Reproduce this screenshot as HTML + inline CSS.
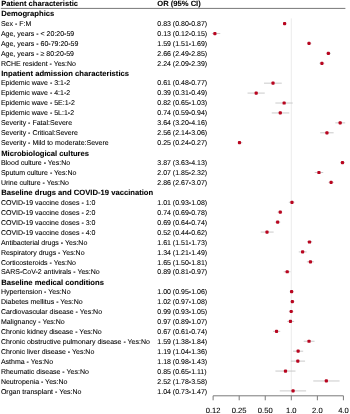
<!DOCTYPE html>
<html><head><meta charset="utf-8"><style>
html,body{margin:0;padding:0;background:#fff;}
body{width:350px;height:414px;overflow:hidden;}
svg{display:block;will-change:transform;}
text{text-rendering:geometricPrecision;font-family:"Liberation Sans",sans-serif;font-size:7.0px;fill:#000;stroke:#000;stroke-width:0.08px;}
text.b{font-weight:bold;}
</style></head><body>
<svg width="350" height="414" viewBox="0 0 350 414">
<rect width="350" height="414" fill="#fff"/>
<line x1="291.3" y1="18.4" x2="291.3" y2="395.8" stroke="#ebebeb" stroke-width="1.0"/>
<line x1="283.21" y1="23.6" x2="286.36" y2="23.6" stroke="#c4c4c4" stroke-width="0.9"/>
<rect x="282.99" y="22" width="3.2" height="3.2" rx="0.96" fill="#b8051f"/>
<line x1="211.89" y1="33.53" x2="220.27" y2="33.53" stroke="#c4c4c4" stroke-width="0.9"/>
<rect x="213.29" y="31.93" width="3.2" height="3.2" rx="0.96" fill="#b8051f"/>
<line x1="307.09" y1="43.45" x2="311.33" y2="43.45" stroke="#c4c4c4" stroke-width="0.9"/>
<rect x="307.43" y="41.85" width="3.2" height="3.2" rx="0.96" fill="#b8051f"/>
<line x1="325.9" y1="53.38" x2="330.98" y2="53.38" stroke="#c4c4c4" stroke-width="0.9"/>
<rect x="326.78" y="51.78" width="3.2" height="3.2" rx="0.96" fill="#b8051f"/>
<line x1="319.31" y1="63.31" x2="324.36" y2="63.31" stroke="#c4c4c4" stroke-width="0.9"/>
<rect x="320.32" y="61.71" width="3.2" height="3.2" rx="0.96" fill="#b8051f"/>
<line x1="264.01" y1="83.16" x2="281.77" y2="83.16" stroke="#c4c4c4" stroke-width="0.9"/>
<rect x="271.42" y="81.56" width="3.2" height="3.2" rx="0.96" fill="#b8051f"/>
<line x1="247.57" y1="93.09" x2="264.78" y2="93.09" stroke="#c4c4c4" stroke-width="0.9"/>
<rect x="254.6" y="91.49" width="3.2" height="3.2" rx="0.96" fill="#b8051f"/>
<line x1="275.4" y1="103.02" x2="292.71" y2="103.02" stroke="#c4c4c4" stroke-width="0.9"/>
<rect x="282.54" y="101.42" width="3.2" height="3.2" rx="0.96" fill="#b8051f"/>
<line x1="271.76" y1="112.94" x2="289.27" y2="112.94" stroke="#c4c4c4" stroke-width="0.9"/>
<rect x="278.68" y="111.34" width="3.2" height="3.2" rx="0.96" fill="#b8051f"/>
<line x1="335.33" y1="122.87" x2="345.19" y2="122.87" stroke="#c4c4c4" stroke-width="0.9"/>
<rect x="338.57" y="121.27" width="3.2" height="3.2" rx="0.96" fill="#b8051f"/>
<line x1="320.2" y1="132.8" x2="333.65" y2="132.8" stroke="#c4c4c4" stroke-width="0.9"/>
<rect x="325.34" y="131.2" width="3.2" height="3.2" rx="0.96" fill="#b8051f"/>
<line x1="237.95" y1="142.72" x2="242.37" y2="142.72" stroke="#c4c4c4" stroke-width="0.9"/>
<rect x="237.88" y="141.12" width="3.2" height="3.2" rx="0.96" fill="#b8051f"/>
<line x1="340.07" y1="162.58" x2="344.92" y2="162.58" stroke="#c4c4c4" stroke-width="0.9"/>
<rect x="340.88" y="160.98" width="3.2" height="3.2" rx="0.96" fill="#b8051f"/>
<line x1="314.73" y1="172.5" x2="323.24" y2="172.5" stroke="#c4c4c4" stroke-width="0.9"/>
<rect x="317.35" y="170.91" width="3.2" height="3.2" rx="0.96" fill="#b8051f"/>
<line x1="328.52" y1="182.43" x2="333.77" y2="182.43" stroke="#c4c4c4" stroke-width="0.9"/>
<rect x="329.51" y="180.83" width="3.2" height="3.2" rx="0.96" fill="#b8051f"/>
<line x1="288.87" y1="202.29" x2="294.49" y2="202.29" stroke="#c4c4c4" stroke-width="0.9"/>
<rect x="290.37" y="200.69" width="3.2" height="3.2" rx="0.96" fill="#b8051f"/>
<line x1="277.65" y1="212.21" x2="282.26" y2="212.21" stroke="#c4c4c4" stroke-width="0.9"/>
<rect x="278.68" y="210.61" width="3.2" height="3.2" rx="0.96" fill="#b8051f"/>
<line x1="274.82" y1="222.14" x2="280.28" y2="222.14" stroke="#c4c4c4" stroke-width="0.9"/>
<rect x="276.05" y="220.54" width="3.2" height="3.2" rx="0.96" fill="#b8051f"/>
<line x1="260.73" y1="232.07" x2="273.63" y2="232.07" stroke="#c4c4c4" stroke-width="0.9"/>
<rect x="265.41" y="230.47" width="3.2" height="3.2" rx="0.96" fill="#b8051f"/>
<line x1="307.09" y1="241.99" x2="312.21" y2="241.99" stroke="#c4c4c4" stroke-width="0.9"/>
<rect x="307.9" y="240.39" width="3.2" height="3.2" rx="0.96" fill="#b8051f"/>
<line x1="298.77" y1="251.92" x2="306.59" y2="251.92" stroke="#c4c4c4" stroke-width="0.9"/>
<rect x="301" y="250.32" width="3.2" height="3.2" rx="0.96" fill="#b8051f"/>
<line x1="306.84" y1="261.85" x2="313.91" y2="261.85" stroke="#c4c4c4" stroke-width="0.9"/>
<rect x="308.83" y="260.25" width="3.2" height="3.2" rx="0.96" fill="#b8051f"/>
<line x1="283.68" y1="271.77" x2="290.45" y2="271.77" stroke="#c4c4c4" stroke-width="0.9"/>
<rect x="285.62" y="270.17" width="3.2" height="3.2" rx="0.96" fill="#b8051f"/>
<line x1="289.67" y1="291.63" x2="293.79" y2="291.63" stroke="#c4c4c4" stroke-width="0.9"/>
<rect x="290" y="290.03" width="3.2" height="3.2" rx="0.96" fill="#b8051f"/>
<line x1="290.45" y1="301.56" x2="294.49" y2="301.56" stroke="#c4c4c4" stroke-width="0.9"/>
<rect x="290.74" y="299.96" width="3.2" height="3.2" rx="0.96" fill="#b8051f"/>
<line x1="288.87" y1="311.48" x2="293.43" y2="311.48" stroke="#c4c4c4" stroke-width="0.9"/>
<rect x="289.62" y="309.88" width="3.2" height="3.2" rx="0.96" fill="#b8051f"/>
<line x1="287.22" y1="321.41" x2="294.14" y2="321.41" stroke="#c4c4c4" stroke-width="0.9"/>
<rect x="288.85" y="319.81" width="3.2" height="3.2" rx="0.96" fill="#b8051f"/>
<line x1="273.02" y1="331.34" x2="280.28" y2="331.34" stroke="#c4c4c4" stroke-width="0.9"/>
<rect x="274.94" y="329.74" width="3.2" height="3.2" rx="0.96" fill="#b8051f"/>
<line x1="303.71" y1="341.26" x2="314.53" y2="341.26" stroke="#c4c4c4" stroke-width="0.9"/>
<rect x="307.43" y="339.66" width="3.2" height="3.2" rx="0.96" fill="#b8051f"/>
<line x1="293.07" y1="351.19" x2="303.16" y2="351.19" stroke="#c4c4c4" stroke-width="0.9"/>
<rect x="296.54" y="349.59" width="3.2" height="3.2" rx="0.96" fill="#b8051f"/>
<line x1="290.84" y1="361.12" x2="305.05" y2="361.12" stroke="#c4c4c4" stroke-width="0.9"/>
<rect x="296.22" y="359.52" width="3.2" height="3.2" rx="0.96" fill="#b8051f"/>
<line x1="275.4" y1="371.05" x2="295.52" y2="371.05" stroke="#c4c4c4" stroke-width="0.9"/>
<rect x="283.89" y="369.44" width="3.2" height="3.2" rx="0.96" fill="#b8051f"/>
<line x1="313.28" y1="380.97" x2="339.55" y2="380.97" stroke="#c4c4c4" stroke-width="0.9"/>
<rect x="324.75" y="379.37" width="3.2" height="3.2" rx="0.96" fill="#b8051f"/>
<line x1="279.77" y1="390.9" x2="306.08" y2="390.9" stroke="#c4c4c4" stroke-width="0.9"/>
<rect x="291.47" y="389.3" width="3.2" height="3.2" rx="0.96" fill="#b8051f"/>
<line x1="0.8" y1="8.4" x2="345.4" y2="8.4" stroke="#777" stroke-width="1.0"/>
<line x1="213.12" y1="395.8" x2="343.42" y2="395.8" stroke="#7a7a7a" stroke-width="1.0"/>
<line x1="213.12" y1="395.8" x2="213.12" y2="400.3" stroke="#7a7a7a" stroke-width="1.0"/>
<line x1="239.18" y1="395.8" x2="239.18" y2="400.3" stroke="#7a7a7a" stroke-width="1.0"/>
<line x1="265.24" y1="395.8" x2="265.24" y2="400.3" stroke="#7a7a7a" stroke-width="1.0"/>
<line x1="291.3" y1="395.8" x2="291.3" y2="400.3" stroke="#7a7a7a" stroke-width="1.0"/>
<line x1="317.36" y1="395.8" x2="317.36" y2="400.3" stroke="#7a7a7a" stroke-width="1.0"/>
<line x1="343.42" y1="395.8" x2="343.42" y2="400.3" stroke="#7a7a7a" stroke-width="1.0"/>
<text x="1.2" y="6.3" class="b" style="font-size:7.6px">Patient characteristic</text>
<text x="157.3" y="6.3" class="b" style="font-size:7.6px">OR (95% CI)</text>
<text x="1.2" y="16.25" class="b" style="font-size:7.65px">Demographics</text>
<text x="0.9" y="25.7">Sex - F:M</text>
<text x="157.3" y="25.7">0.83 (0.80-0.87)</text>
<text x="0.9" y="35.65">Age, years - &lt; 20:20-59</text>
<text x="157.3" y="35.65">0.13 (0.12-0.15)</text>
<text x="0.9" y="45.6">Age, years - 60-79:20-59</text>
<text x="157.3" y="45.6">1.59 (1.51-1.69)</text>
<text x="0.9" y="55.55">Age, years - ≥ 80:20-59</text>
<text x="157.3" y="55.55">2.66 (2.49-2.85)</text>
<text x="0.9" y="65.5">RCHE resident - Yes:No</text>
<text x="157.3" y="65.5">2.24 (2.09-2.39)</text>
<text x="1.2" y="75.95" class="b" style="font-size:7.65px">Inpatient admission characteristics</text>
<text x="0.9" y="85.4">Epidemic wave - 3:1-2</text>
<text x="157.3" y="85.4">0.61 (0.48-0.77)</text>
<text x="0.9" y="95.35">Epidemic wave - 4:1-2</text>
<text x="157.3" y="95.35">0.39 (0.31-0.49)</text>
<text x="0.9" y="105.3">Epidemic wave - 5E:1-2</text>
<text x="157.3" y="105.3">0.82 (0.65-1.03)</text>
<text x="0.9" y="115.25">Epidemic wave - 5L:1-2</text>
<text x="157.3" y="115.25">0.74 (0.59-0.94)</text>
<text x="0.9" y="125.2">Severity - Fatal:Severe</text>
<text x="157.3" y="125.2">3.64 (3.20-4.16)</text>
<text x="0.9" y="135.15">Severity - Critical:Severe</text>
<text x="157.3" y="135.15">2.56 (2.14-3.06)</text>
<text x="0.9" y="145.1">Severity - Mild to moderate:Severe</text>
<text x="157.3" y="145.1">0.25 (0.24-0.27)</text>
<text x="1.2" y="155.55" class="b" style="font-size:7.65px">Microbiological cultures</text>
<text x="0.9" y="165">Blood culture - Yes:No</text>
<text x="157.3" y="165">3.87 (3.63-4.13)</text>
<text x="0.9" y="174.95">Sputum culture - Yes:No</text>
<text x="157.3" y="174.95">2.07 (1.85-2.32)</text>
<text x="0.9" y="184.9">Urine culture - Yes:No</text>
<text x="157.3" y="184.9">2.86 (2.67-3.07)</text>
<text x="1.2" y="195.35" class="b" style="font-size:7.65px">Baseline drugs and COVID-19 vaccination</text>
<text x="0.9" y="204.8">COVID-19 vaccine doses - 1:0</text>
<text x="157.3" y="204.8">1.01 (0.93-1.08)</text>
<text x="0.9" y="214.75">COVID-19 vaccine doses - 2:0</text>
<text x="157.3" y="214.75">0.74 (0.69-0.78)</text>
<text x="0.9" y="224.7">COVID-19 vaccine doses - 3:0</text>
<text x="157.3" y="224.7">0.69 (0.64-0.74)</text>
<text x="0.9" y="234.65">COVID-19 vaccine doses - 4:0</text>
<text x="157.3" y="234.65">0.52 (0.44-0.62)</text>
<text x="0.9" y="244.6">Antibacterial drugs - Yes:No</text>
<text x="157.3" y="244.6">1.61 (1.51-1.73)</text>
<text x="0.9" y="254.55">Respiratory drugs - Yes:No</text>
<text x="157.3" y="254.55">1.34 (1.21-1.49)</text>
<text x="0.9" y="264.5">Corticosteroids - Yes:No</text>
<text x="157.3" y="264.5">1.65 (1.50-1.81)</text>
<text x="0.9" y="274.45">SARS-CoV-2 antivirals - Yes:No</text>
<text x="157.3" y="274.45">0.89 (0.81-0.97)</text>
<text x="1.2" y="284.9" class="b" style="font-size:7.65px">Baseline medical conditions</text>
<text x="0.9" y="294.35">Hypertension - Yes:No</text>
<text x="157.3" y="294.35">1.00 (0.95-1.06)</text>
<text x="0.9" y="304.3">Diabetes mellitus - Yes:No</text>
<text x="157.3" y="304.3">1.02 (0.97-1.08)</text>
<text x="0.9" y="314.25">Cardiovascular disease - Yes:No</text>
<text x="157.3" y="314.25">0.99 (0.93-1.05)</text>
<text x="0.9" y="324.2">Malignancy - Yes:No</text>
<text x="157.3" y="324.2">0.97 (0.89-1.07)</text>
<text x="0.9" y="334.15">Chronic kidney disease - Yes:No</text>
<text x="157.3" y="334.15">0.67 (0.61-0.74)</text>
<text x="0.9" y="344.1">Chronic obstructive pulmonary disease - Yes:No</text>
<text x="157.3" y="344.1">1.59 (1.38-1.84)</text>
<text x="0.9" y="354.05">Chronic liver disease - Yes:No</text>
<text x="157.3" y="354.05">1.19 (1.04-1.36)</text>
<text x="0.9" y="364">Asthma - Yes:No</text>
<text x="157.3" y="364">1.18 (0.98-1.43)</text>
<text x="0.9" y="373.95">Rheumatic disease - Yes:No</text>
<text x="157.3" y="373.95">0.85 (0.65-1.11)</text>
<text x="0.9" y="383.9">Neutropenia - Yes:No</text>
<text x="157.3" y="383.9">2.52 (1.78-3.58)</text>
<text x="0.9" y="393.85">Organ transplant - Yes:No</text>
<text x="157.3" y="393.85">1.04 (0.73-1.47)</text>
<text x="213.12" y="412.5" text-anchor="middle" style="font-size:7.6px">0.12</text>
<text x="239.18" y="412.5" text-anchor="middle" style="font-size:7.6px">0.25</text>
<text x="265.24" y="412.5" text-anchor="middle" style="font-size:7.6px">0.50</text>
<text x="291.3" y="412.5" text-anchor="middle" style="font-size:7.6px">1.0</text>
<text x="317.36" y="412.5" text-anchor="middle" style="font-size:7.6px">2.0</text>
<text x="343.42" y="412.5" text-anchor="middle" style="font-size:7.6px">4.0</text>
</svg>
</body></html>
